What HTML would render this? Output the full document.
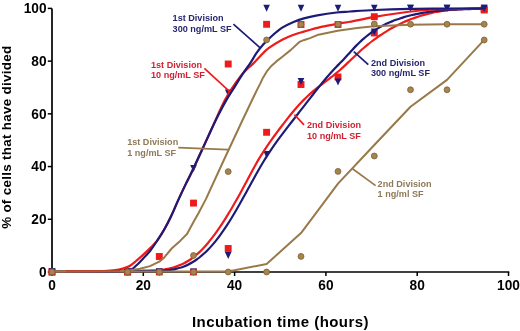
<!DOCTYPE html>
<html><head><meta charset="utf-8"><style>
html,body{margin:0;padding:0;background:#fff;}
body{width:520px;height:331px;overflow:hidden;}
svg{display:block;will-change:transform;}
text{font-family:"Liberation Sans",sans-serif;font-weight:bold;}
.tk{font-size:13.7px;fill:#000;}
.ax{font-size:15px;fill:#000;letter-spacing:0.45px;}
.ay{font-size:13.4px;fill:#000;letter-spacing:0.3px;}
.lb{font-size:9.1px;}
</style></head><body>
<svg width="520" height="331" viewBox="0 0 520 331">
<path d="M52,8.4 V272.5" stroke="#000" stroke-width="1.7" fill="none"/>
<path d="M51.2,272 H509.3" stroke="#000" stroke-width="1.7" fill="none"/>
<path d="M47.8,272.00 H52" stroke="#000" stroke-width="1.5"/>
<text transform="translate(46.6,276.85) scale(1,1.12)" text-anchor="end" class="tk">0</text>
<path d="M47.8,219.28 H52" stroke="#000" stroke-width="1.5"/>
<text transform="translate(46.6,224.13) scale(1,1.12)" text-anchor="end" class="tk">20</text>
<path d="M47.8,166.56 H52" stroke="#000" stroke-width="1.5"/>
<text transform="translate(46.6,171.41) scale(1,1.12)" text-anchor="end" class="tk">40</text>
<path d="M47.8,113.84 H52" stroke="#000" stroke-width="1.5"/>
<text transform="translate(46.6,118.69) scale(1,1.12)" text-anchor="end" class="tk">60</text>
<path d="M47.8,61.12 H52" stroke="#000" stroke-width="1.5"/>
<text transform="translate(46.6,65.97) scale(1,1.12)" text-anchor="end" class="tk">80</text>
<path d="M47.8,8.40 H52" stroke="#000" stroke-width="1.5"/>
<text transform="translate(46.6,13.25) scale(1,1.12)" text-anchor="end" class="tk">100</text>
<path d="M52.00,272 V276" stroke="#000" stroke-width="1.5"/>
<text transform="translate(52.00,289.5) scale(1,1.12)" text-anchor="middle" class="tk">0</text>
<path d="M143.30,272 V276" stroke="#000" stroke-width="1.5"/>
<text transform="translate(143.30,289.5) scale(1,1.12)" text-anchor="middle" class="tk">20</text>
<path d="M234.60,272 V276" stroke="#000" stroke-width="1.5"/>
<text transform="translate(234.60,289.5) scale(1,1.12)" text-anchor="middle" class="tk">40</text>
<path d="M325.90,272 V276" stroke="#000" stroke-width="1.5"/>
<text transform="translate(325.90,289.5) scale(1,1.12)" text-anchor="middle" class="tk">60</text>
<path d="M417.20,272 V276" stroke="#000" stroke-width="1.5"/>
<text transform="translate(417.20,289.5) scale(1,1.12)" text-anchor="middle" class="tk">80</text>
<path d="M508.50,272 V276" stroke="#000" stroke-width="1.5"/>
<text transform="translate(508.50,289.5) scale(1,1.12)" text-anchor="middle" class="tk">100</text>
<text x="280.5" y="326.8" text-anchor="middle" class="ax">Incubation time (hours)</text>
<text transform="translate(11.4,137.2) rotate(-90)" text-anchor="middle" class="ay">% of cells that have divided</text>
<rect x="48.55" y="268.55" width="6.90" height="6.90" fill="#ee1b1b"/>
<rect x="48.55" y="268.55" width="6.90" height="6.90" fill="#ee1b1b"/>
<rect x="124.15" y="268.55" width="6.90" height="6.90" fill="#ee1b1b"/>
<rect x="124.15" y="268.55" width="6.90" height="6.90" fill="#ee1b1b"/>
<rect x="155.85" y="253.05" width="6.90" height="6.90" fill="#ee1b1b"/>
<rect x="155.85" y="268.55" width="6.90" height="6.90" fill="#ee1b1b"/>
<rect x="190.05" y="199.65" width="6.90" height="6.90" fill="#ee1b1b"/>
<rect x="190.05" y="268.55" width="6.90" height="6.90" fill="#ee1b1b"/>
<rect x="224.75" y="60.55" width="6.90" height="6.90" fill="#ee1b1b"/>
<rect x="224.75" y="245.05" width="6.90" height="6.90" fill="#ee1b1b"/>
<rect x="263.15" y="20.85" width="6.90" height="6.90" fill="#ee1b1b"/>
<rect x="263.15" y="128.85" width="6.90" height="6.90" fill="#ee1b1b"/>
<rect x="297.55" y="21.05" width="6.90" height="6.90" fill="#ee1b1b"/>
<rect x="297.55" y="81.05" width="6.90" height="6.90" fill="#ee1b1b"/>
<rect x="334.55" y="21.05" width="6.90" height="6.90" fill="#ee1b1b"/>
<rect x="334.55" y="73.55" width="6.90" height="6.90" fill="#ee1b1b"/>
<rect x="370.85" y="13.25" width="6.90" height="6.90" fill="#ee1b1b"/>
<rect x="370.85" y="29.55" width="6.90" height="6.90" fill="#ee1b1b"/>
<rect x="480.75" y="5.55" width="6.90" height="6.90" fill="#ee1b1b"/>
<rect x="480.75" y="6.55" width="6.90" height="6.90" fill="#ee1b1b"/>
<path d="M48.70,268.50 L55.30,268.50 L52.00,275.50Z" fill="#1c1c78"/>
<path d="M48.70,268.50 L55.30,268.50 L52.00,275.50Z" fill="#1c1c78"/>
<path d="M124.30,268.50 L130.90,268.50 L127.60,275.50Z" fill="#1c1c78"/>
<path d="M124.30,268.50 L130.90,268.50 L127.60,275.50Z" fill="#1c1c78"/>
<path d="M156.00,268.50 L162.60,268.50 L159.30,275.50Z" fill="#1c1c78"/>
<path d="M156.00,268.50 L162.60,268.50 L159.30,275.50Z" fill="#1c1c78"/>
<path d="M190.20,165.00 L196.80,165.00 L193.50,172.00Z" fill="#1c1c78"/>
<path d="M190.20,268.50 L196.80,268.50 L193.50,275.50Z" fill="#1c1c78"/>
<path d="M224.90,89.50 L231.50,89.50 L228.20,96.50Z" fill="#1c1c78"/>
<path d="M224.90,252.00 L231.50,252.00 L228.20,259.00Z" fill="#1c1c78"/>
<path d="M263.30,4.70 L269.90,4.70 L266.60,11.70Z" fill="#1c1c78"/>
<path d="M263.30,151.00 L269.90,151.00 L266.60,158.00Z" fill="#1c1c78"/>
<path d="M297.70,4.70 L304.30,4.70 L301.00,11.70Z" fill="#1c1c78"/>
<path d="M297.70,78.00 L304.30,78.00 L301.00,85.00Z" fill="#1c1c78"/>
<path d="M334.70,4.70 L341.30,4.70 L338.00,11.70Z" fill="#1c1c78"/>
<path d="M334.70,78.50 L341.30,78.50 L338.00,85.50Z" fill="#1c1c78"/>
<path d="M371.00,4.70 L377.60,4.70 L374.30,11.70Z" fill="#1c1c78"/>
<path d="M371.00,28.50 L377.60,28.50 L374.30,35.50Z" fill="#1c1c78"/>
<path d="M407.20,4.70 L413.80,4.70 L410.50,11.70Z" fill="#1c1c78"/>
<path d="M407.20,4.70 L413.80,4.70 L410.50,11.70Z" fill="#1c1c78"/>
<path d="M443.70,4.70 L450.30,4.70 L447.00,11.70Z" fill="#1c1c78"/>
<path d="M443.70,4.70 L450.30,4.70 L447.00,11.70Z" fill="#1c1c78"/>
<path d="M480.90,4.70 L487.50,4.70 L484.20,11.70Z" fill="#1c1c78"/>
<path d="M480.90,4.70 L487.50,4.70 L484.20,11.70Z" fill="#1c1c78"/>
<path d="M52.00,271.50 C63.33,271.50 105.33,271.59 120.00,271.50 C134.67,271.41 136.00,271.06 140.00,270.96 C144.00,270.87 142.67,270.95 144.00,270.93 C145.33,270.91 146.67,270.90 148.00,270.86 C149.33,270.83 150.67,270.78 152.00,270.72 C153.33,270.66 154.67,270.59 156.00,270.48 C157.33,270.38 158.67,270.26 160.00,270.10 C161.33,269.95 162.67,269.77 164.00,269.55 C165.33,269.34 166.67,269.10 168.00,268.82 C169.33,268.53 170.67,268.21 172.00,267.84 C173.33,267.47 174.67,267.06 176.00,266.60 C177.33,266.14 178.67,265.63 180.00,265.06 C181.33,264.49 182.67,263.87 184.00,263.19 C185.33,262.50 186.67,261.76 188.00,260.94 C189.33,260.12 190.67,259.23 192.00,258.28 C193.33,257.32 194.67,256.30 196.00,255.18 C197.33,254.07 198.67,252.87 200.00,251.59 C201.33,250.31 202.67,248.94 204.00,247.50 C205.33,246.05 206.67,244.53 208.00,242.93 C209.33,241.34 210.67,239.67 212.00,237.94 C213.33,236.22 214.67,234.42 216.00,232.57 C217.33,230.72 218.67,228.81 220.00,226.84 C221.33,224.88 222.67,222.86 224.00,220.79 C225.33,218.71 226.67,216.58 228.00,214.41 C229.33,212.24 230.67,210.01 232.00,207.75 C233.33,205.49 234.67,203.18 236.00,200.83 C237.33,198.49 238.67,196.10 240.00,193.69 C241.33,191.27 242.67,188.82 244.00,186.34 C245.33,183.86 246.67,181.34 248.00,178.83 C249.33,176.31 250.67,173.71 252.00,171.23 C253.33,168.75 254.67,166.30 256.00,163.95 C257.33,161.61 258.67,159.36 260.00,157.18 C261.33,154.99 262.67,152.89 264.00,150.83 C265.33,148.77 266.67,146.78 268.00,144.83 C269.33,142.88 270.67,140.99 272.00,139.12 C273.33,137.26 274.67,135.44 276.00,133.63 C277.33,131.83 278.67,130.05 280.00,128.28 C281.33,126.52 282.67,124.78 284.00,123.05 C285.33,121.33 286.67,119.62 288.00,117.94 C289.33,116.27 290.67,114.62 292.00,113.01 C293.33,111.40 294.67,109.82 296.00,108.29 C297.33,106.76 298.67,105.26 300.00,103.81 C301.33,102.36 302.67,100.95 304.00,99.61 C305.33,98.26 306.67,96.96 308.00,95.72 C309.33,94.48 310.67,93.31 312.00,92.17 C313.33,91.03 314.67,89.94 316.00,88.87 C317.33,87.79 318.67,86.76 320.00,85.73 C321.33,84.70 322.67,83.71 324.00,82.70 C325.33,81.69 326.67,80.71 328.00,79.69 C329.33,78.68 330.67,77.67 332.00,76.62 C333.33,75.57 334.67,74.52 336.00,73.42 C337.33,72.31 338.67,71.18 340.00,70.00 C341.33,68.83 342.67,67.61 344.00,66.38 C345.33,65.15 346.67,63.87 348.00,62.61 C349.33,61.34 350.67,60.05 352.00,58.77 C353.33,57.50 354.67,56.22 356.00,54.97 C357.33,53.72 358.67,52.47 360.00,51.27 C361.33,50.06 362.67,48.89 364.00,47.75 C365.33,46.60 366.67,45.48 368.00,44.40 C369.33,43.32 370.67,42.27 372.00,41.25 C373.33,40.23 374.67,39.24 376.00,38.27 C377.33,37.31 378.67,36.37 380.00,35.47 C381.33,34.56 382.67,33.69 384.00,32.84 C385.33,32.00 386.67,31.17 388.00,30.38 C389.33,29.58 390.67,28.82 392.00,28.07 C393.33,27.33 394.67,26.61 396.00,25.92 C397.33,25.22 398.67,24.56 400.00,23.92 C401.33,23.28 402.67,22.66 404.00,22.06 C405.33,21.47 406.67,20.90 408.00,20.36 C409.33,19.81 410.67,19.29 412.00,18.79 C413.33,18.29 414.67,17.81 416.00,17.35 C417.33,16.90 418.67,16.47 420.00,16.06 C421.33,15.64 422.67,15.24 424.00,14.87 C425.33,14.49 426.67,14.14 428.00,13.81 C429.33,13.48 430.67,13.17 432.00,12.87 C433.33,12.58 434.67,12.29 436.00,12.03 C437.33,11.77 438.67,11.54 440.00,11.31 C441.33,11.09 442.67,10.89 444.00,10.70 C445.33,10.50 446.67,10.33 448.00,10.17 C449.33,10.01 450.67,9.87 452.00,9.74 C453.33,9.61 454.67,9.50 456.00,9.40 C457.33,9.30 458.67,9.22 460.00,9.15 C461.33,9.08 462.67,9.02 464.00,8.98 C465.33,8.93 466.67,8.90 468.00,8.88 C469.33,8.86 470.67,8.86 472.00,8.86 C473.33,8.86 474.67,8.86 476.00,8.86 C477.33,8.86 478.67,8.86 480.00,8.86 C481.33,8.86 483.17,8.86 484.00,8.86 C484.83,8.86 484.83,8.86 485.00,8.86" stroke="#ee1b1b" stroke-width="2.2" fill="none"/>
<path d="M52.00,271.50 C63.33,271.50 105.33,271.58 120.00,271.50 C134.67,271.42 136.00,271.11 140.00,271.01 C144.00,270.92 142.67,270.95 144.00,270.93 C145.33,270.91 146.67,270.91 148.00,270.90 C149.33,270.89 150.67,270.90 152.00,270.89 C153.33,270.88 154.67,270.88 156.00,270.86 C157.33,270.84 158.67,270.81 160.00,270.76 C161.33,270.71 162.67,270.65 164.00,270.56 C165.33,270.47 166.67,270.35 168.00,270.20 C169.33,270.05 170.67,269.88 172.00,269.66 C173.33,269.44 174.67,269.18 176.00,268.87 C177.33,268.57 178.67,268.22 180.00,267.82 C181.33,267.41 182.67,266.96 184.00,266.44 C185.33,265.92 186.67,265.35 188.00,264.70 C189.33,264.06 190.67,263.34 192.00,262.56 C193.33,261.77 194.67,260.92 196.00,259.99 C197.33,259.06 198.67,258.06 200.00,256.99 C201.33,255.91 202.67,254.77 204.00,253.55 C205.33,252.34 206.67,251.05 208.00,249.68 C209.33,248.32 210.67,246.88 212.00,245.36 C213.33,243.84 214.67,242.24 216.00,240.58 C217.33,238.91 218.67,237.18 220.00,235.37 C221.33,233.56 222.67,231.68 224.00,229.73 C225.33,227.78 226.67,225.76 228.00,223.69 C229.33,221.62 230.67,219.48 232.00,217.29 C233.33,215.10 234.67,212.85 236.00,210.56 C237.33,208.26 238.67,205.91 240.00,203.54 C241.33,201.17 242.67,198.76 244.00,196.34 C245.33,193.93 246.67,191.48 248.00,189.05 C249.33,186.62 250.67,184.17 252.00,181.76 C253.33,179.35 254.67,176.93 256.00,174.56 C257.33,172.19 258.67,169.83 260.00,167.54 C261.33,165.24 262.67,162.98 264.00,160.79 C265.33,158.60 266.67,156.48 268.00,154.41 C269.33,152.35 270.67,150.35 272.00,148.39 C273.33,146.44 274.67,144.54 276.00,142.67 C277.33,140.81 278.67,138.99 280.00,137.19 C281.33,135.38 282.67,133.62 284.00,131.87 C285.33,130.11 286.67,128.37 288.00,126.64 C289.33,124.90 290.67,123.17 292.00,121.46 C293.33,119.74 294.67,118.03 296.00,116.32 C297.33,114.61 298.67,112.90 300.00,111.19 C301.33,109.49 302.67,107.79 304.00,106.07 C305.33,104.36 306.67,102.63 308.00,100.91 C309.33,99.19 310.67,97.47 312.00,95.75 C313.33,94.04 314.67,92.32 316.00,90.62 C317.33,88.93 318.67,87.24 320.00,85.58 C321.33,83.93 322.67,82.28 324.00,80.68 C325.33,79.08 326.67,77.50 328.00,75.97 C329.33,74.44 330.67,72.96 332.00,71.50 C333.33,70.04 334.67,68.64 336.00,67.24 C337.33,65.83 338.67,64.46 340.00,63.07 C341.33,61.68 342.67,60.30 344.00,58.89 C345.33,57.49 346.67,56.07 348.00,54.61 C349.33,53.16 350.67,51.63 352.00,50.17 C353.33,48.71 354.67,47.24 356.00,45.87 C357.33,44.50 358.67,43.19 360.00,41.94 C361.33,40.69 362.67,39.50 364.00,38.36 C365.33,37.23 366.67,36.15 368.00,35.12 C369.33,34.09 370.67,33.11 372.00,32.18 C373.33,31.25 374.67,30.38 376.00,29.54 C377.33,28.70 378.67,27.92 380.00,27.16 C381.33,26.41 382.67,25.70 384.00,25.03 C385.33,24.35 386.67,23.72 388.00,23.11 C389.33,22.50 390.67,21.93 392.00,21.39 C393.33,20.84 394.67,20.33 396.00,19.84 C397.33,19.35 398.67,18.88 400.00,18.43 C401.33,17.99 402.67,17.57 404.00,17.17 C405.33,16.77 406.67,16.39 408.00,16.04 C409.33,15.68 410.67,15.34 412.00,15.02 C413.33,14.70 414.67,14.39 416.00,14.11 C417.33,13.82 418.67,13.56 420.00,13.31 C421.33,13.06 422.67,12.82 424.00,12.60 C425.33,12.38 426.67,12.18 428.00,11.99 C429.33,11.80 430.67,11.62 432.00,11.45 C433.33,11.29 434.67,11.14 436.00,11.01 C437.33,10.87 438.67,10.74 440.00,10.62 C441.33,10.49 442.67,10.38 444.00,10.28 C445.33,10.17 446.67,10.08 448.00,10.00 C449.33,9.91 450.67,9.83 452.00,9.76 C453.33,9.68 454.67,9.62 456.00,9.56 C457.33,9.50 458.67,9.44 460.00,9.39 C461.33,9.33 462.67,9.29 464.00,9.24 C465.33,9.19 466.67,9.14 468.00,9.10 C469.33,9.05 470.67,9.01 472.00,8.97 C473.33,8.93 474.67,8.89 476.00,8.84 C477.33,8.79 478.67,8.74 480.00,8.69 C481.33,8.64 483.17,8.56 484.00,8.53 C484.83,8.50 484.83,8.50 485.00,8.49" stroke="#1c1c78" stroke-width="2.2" fill="none"/>
<path d="M52.00,271.50 C60.00,271.47 89.50,271.53 100.00,271.30 C110.50,271.07 111.00,270.63 115.00,270.10 C119.00,269.57 121.50,268.82 124.00,268.11 C126.50,267.39 127.87,267.11 130.00,265.81 C132.13,264.51 134.53,262.23 136.80,260.32 C139.07,258.41 141.33,256.41 143.60,254.33 C145.87,252.25 148.12,250.17 150.40,247.84 C152.68,245.52 155.00,243.40 157.30,240.36 C159.60,237.31 161.90,233.61 164.20,229.58 C166.50,225.55 168.80,221.03 171.10,216.21 C173.40,211.38 175.58,205.94 178.00,200.63 C180.42,195.33 183.08,189.59 185.60,184.37 C188.12,179.14 190.47,174.82 193.10,169.29 C195.73,163.77 198.57,157.40 201.40,151.23 C204.23,145.06 207.47,138.07 210.10,132.26 C212.73,126.46 214.75,121.72 217.20,116.39 C219.65,111.07 222.35,105.00 224.80,100.33 C227.25,95.65 229.30,92.34 231.90,88.35 C234.50,84.36 237.88,79.56 240.40,76.37 C242.92,73.18 244.92,71.26 247.00,69.18 C249.08,67.11 250.67,66.11 252.90,63.89 C255.13,61.68 257.78,58.52 260.40,55.91 C263.02,53.30 264.97,50.90 268.60,48.22 C272.23,45.55 278.13,42.04 282.20,39.84 C286.27,37.64 289.38,36.41 293.00,35.05 C296.62,33.69 299.20,33.02 303.90,31.66 C308.60,30.29 315.12,28.26 321.20,26.86 C327.28,25.47 335.60,24.12 340.40,23.27 C345.20,22.42 344.30,22.84 350.00,21.77 C355.70,20.71 365.68,18.43 374.60,16.88 C383.52,15.34 394.85,13.64 403.50,12.49 C412.15,11.34 420.42,10.55 426.50,10.00 C432.58,9.45 430.25,9.45 440.00,9.20 C449.75,8.95 477.50,8.62 485.00,8.50" stroke="#ee1b1b" stroke-width="2.2" fill="none"/>
<path d="M52.00,271.50 C60.00,271.50 89.50,271.53 100.00,271.50 C110.50,271.47 111.00,271.43 115.00,271.30 C119.00,271.17 121.27,271.00 124.00,270.70 C126.73,270.40 129.27,270.45 131.40,269.50 C133.53,268.56 134.77,266.93 136.80,265.01 C138.83,263.10 141.33,260.44 143.60,258.03 C145.87,255.61 148.12,253.45 150.40,250.54 C152.68,247.63 155.00,244.05 157.30,240.56 C159.60,237.07 161.90,233.64 164.20,229.58 C166.50,225.52 168.80,221.03 171.10,216.21 C173.40,211.38 175.58,205.94 178.00,200.63 C180.42,195.33 183.08,189.59 185.60,184.37 C188.12,179.14 190.47,174.82 193.10,169.29 C195.73,163.77 198.57,157.40 201.40,151.23 C204.23,145.06 207.40,138.07 210.10,132.26 C212.80,126.46 214.92,121.72 217.60,116.39 C220.28,111.07 223.43,105.13 226.20,100.33 C228.97,95.52 231.37,92.07 234.20,87.55 C237.03,83.02 240.47,77.32 243.20,73.18 C245.93,69.03 248.40,66.02 250.60,62.70 C252.80,59.37 254.30,56.24 256.40,53.21 C258.50,50.19 260.72,47.33 263.20,44.53 C265.68,41.74 268.13,39.26 271.30,36.45 C274.47,33.64 278.58,30.04 282.20,27.66 C285.82,25.28 289.38,23.72 293.00,22.17 C296.62,20.63 299.85,19.51 303.90,18.38 C307.95,17.25 311.87,16.37 317.30,15.39 C322.73,14.41 331.05,13.14 336.50,12.49 C341.95,11.84 343.65,11.91 350.00,11.49 C356.35,11.08 364.73,10.43 374.60,10.00 C384.47,9.56 398.30,9.13 409.20,8.90 C420.10,8.67 427.37,8.68 440.00,8.60 C452.63,8.52 477.50,8.43 485.00,8.40" stroke="#1c1c78" stroke-width="2.2" fill="none"/>
<path d="M52.00,271.50 L228.20,271.50 L266.60,264.01 L301.00,233.07 L338.00,183.67 L374.30,145.04 L410.50,106.81 L447.00,79.86 L484.20,39.94" stroke="#98794a" stroke-width="2.0" fill="none" stroke-linejoin="round"/>
<path d="M52.00,271.50 L127.60,270.80 L140.00,268.81 L150.00,266.11 L159.30,261.72 L163.50,258.33 L171.90,248.24 L180.40,240.66 L187.00,234.07 L193.50,221.99 L198.60,212.91 L205.90,199.14 L224.00,159.71 L242.70,119.79 L257.00,89.85 L260.10,83.86 L263.00,77.67 L266.80,71.48 L271.60,65.69 L276.40,61.40 L282.70,56.51 L290.60,50.12 L299.40,41.94 L304.30,39.94 L310.00,38.14 L318.50,34.65 L337.70,30.76 L357.00,27.96 L374.00,26.17 L410.00,24.67 L447.00,24.37 L484.20,24.17" stroke="#98794a" stroke-width="2.0" fill="none" stroke-linejoin="round"/>
<path d="M66,270.7 H120" stroke="#c23a22" stroke-width="1.4" opacity="0.8"/>
<circle cx="52.00" cy="272.00" r="2.95" fill="#a5844f" stroke="#7d5f33" stroke-width="0.8"/>
<circle cx="127.60" cy="272.00" r="2.95" fill="#a5844f" stroke="#7d5f33" stroke-width="0.8"/>
<circle cx="159.30" cy="272.00" r="2.95" fill="#a5844f" stroke="#7d5f33" stroke-width="0.8"/>
<circle cx="193.50" cy="255.50" r="2.95" fill="#a5844f" stroke="#7d5f33" stroke-width="0.8"/>
<circle cx="228.20" cy="171.60" r="2.95" fill="#a5844f" stroke="#7d5f33" stroke-width="0.8"/>
<circle cx="266.60" cy="39.90" r="2.95" fill="#a5844f" stroke="#7d5f33" stroke-width="0.8"/>
<circle cx="301.00" cy="24.50" r="2.95" fill="#a5844f" stroke="#7d5f33" stroke-width="0.8"/>
<circle cx="338.00" cy="24.30" r="2.95" fill="#a5844f" stroke="#7d5f33" stroke-width="0.8"/>
<circle cx="374.30" cy="24.00" r="2.95" fill="#a5844f" stroke="#7d5f33" stroke-width="0.8"/>
<circle cx="410.50" cy="24.20" r="2.95" fill="#a5844f" stroke="#7d5f33" stroke-width="0.8"/>
<circle cx="447.00" cy="24.20" r="2.95" fill="#a5844f" stroke="#7d5f33" stroke-width="0.8"/>
<circle cx="484.20" cy="24.20" r="2.95" fill="#a5844f" stroke="#7d5f33" stroke-width="0.8"/>
<circle cx="52.00" cy="272.00" r="2.95" fill="#a5844f" stroke="#7d5f33" stroke-width="0.8"/>
<circle cx="127.60" cy="272.00" r="2.95" fill="#a5844f" stroke="#7d5f33" stroke-width="0.8"/>
<circle cx="159.30" cy="272.00" r="2.95" fill="#a5844f" stroke="#7d5f33" stroke-width="0.8"/>
<circle cx="193.50" cy="272.00" r="2.95" fill="#a5844f" stroke="#7d5f33" stroke-width="0.8"/>
<circle cx="228.20" cy="272.00" r="2.95" fill="#a5844f" stroke="#7d5f33" stroke-width="0.8"/>
<circle cx="266.60" cy="272.00" r="2.95" fill="#a5844f" stroke="#7d5f33" stroke-width="0.8"/>
<circle cx="301.00" cy="256.40" r="2.95" fill="#a5844f" stroke="#7d5f33" stroke-width="0.8"/>
<circle cx="338.00" cy="171.40" r="2.95" fill="#a5844f" stroke="#7d5f33" stroke-width="0.8"/>
<circle cx="374.30" cy="156.00" r="2.95" fill="#a5844f" stroke="#7d5f33" stroke-width="0.8"/>
<circle cx="410.50" cy="89.80" r="2.95" fill="#a5844f" stroke="#7d5f33" stroke-width="0.8"/>
<circle cx="447.00" cy="89.80" r="2.95" fill="#a5844f" stroke="#7d5f33" stroke-width="0.8"/>
<circle cx="484.20" cy="40.00" r="2.95" fill="#a5844f" stroke="#7d5f33" stroke-width="0.8"/>
<path d="M233.4,24.2 L260.2,47.8" stroke="#1c1c78" stroke-width="1.7"/>
<path d="M204.4,68.3 L229.4,91.4" stroke="#ee1b1b" stroke-width="1.7"/>
<path d="M178.3,147.7 L228,149.6" stroke="#98794a" stroke-width="1.7"/>
<path d="M353.8,51.7 L368.3,64.6" stroke="#1c1c78" stroke-width="1.7"/>
<path d="M294.4,114.6 L304,124.8" stroke="#ee1b1b" stroke-width="1.7"/>
<path d="M352.5,168.7 L375.6,185.6" stroke="#98794a" stroke-width="1.7"/>
<text x="172.6" y="21.4" class="lb" fill="#26266e">1st Division</text><text x="172.6" y="31.90" class="lb" fill="#26266e">300 ng/mL SF</text>
<text x="151.0" y="67.8" class="lb" fill="#cf2233">1st Division</text><text x="151.0" y="78.10" class="lb" fill="#cf2233">10 ng/mL SF</text>
<text x="127.2" y="145.2" class="lb" fill="#8e7a58">1st Division</text><text x="127.2" y="155.50" class="lb" fill="#8e7a58">1 ng/mL SF</text>
<text x="371.0" y="65.8" class="lb" fill="#26266e">2nd Division</text><text x="371.0" y="76.10" class="lb" fill="#26266e">300 ng/mL SF</text>
<text x="307.0" y="128.1" class="lb" fill="#cf2233">2nd Division</text><text x="307.0" y="138.70" class="lb" fill="#cf2233">10 ng/mL SF</text>
<text x="377.6" y="186.5" class="lb" fill="#8e7a58">2nd Division</text><text x="377.6" y="196.80" class="lb" fill="#8e7a58">1 ng/ml SF</text>
</svg>
</body></html>
